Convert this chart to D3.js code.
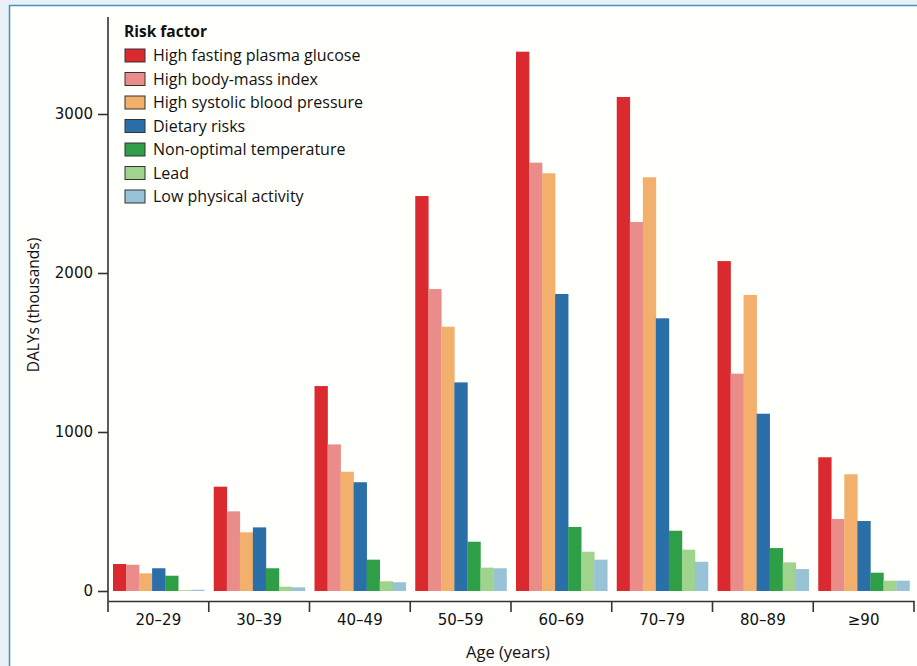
<!DOCTYPE html>
<html>
<head>
<meta charset="utf-8">
<script src="https://cdn.jsdelivr.net/npm/d3@7"></script>
<style>
  body { margin: 0; background: #eaf1f6; }
  svg { display: block; }
  .tick text { font-family: "DejaVu Sans", sans-serif; }
</style>
</head>
<body>
<div id="chart"></div>
<script>
// age groups and the risk factors shown in the legend
var ageGroups = ["20–29", "30–39", "40–49", "50–59", "60–69", "70–79", "80–89", "≥90"];
var riskFactors = ["High fasting plasma glucose", "High body-mass index", "High systolic blood pressure",
  "Dietary risks", "Non-optimal temperature", "Lead", "Low physical activity"];
var colors = ["#da2a30", "#ea8c8a", "#f3b06c", "#2a6fa8", "#2e9f47", "#a0d38b", "#98c3d6"];

// DALYs (thousands), one array per risk factor, in age group order
var glucose     = [170, 656, 1289, 2484, 3392, 3107, 2075, 841];
var bmi         = [165, 501, 922, 1899, 2694, 2321, 1367, 453];
var systolic    = [111, 369, 750, 1662, 2627, 2602, 1862, 734];
var dietary     = [143, 400, 684, 1312, 1868, 1715, 1115, 440];
var temperature = [96, 143, 197, 310, 403, 379, 270, 115];
var lead        = [5, 27, 61, 147, 247, 260, 180, 65];
var activity    = [8, 23, 55, 143, 197, 184, 138, 65];
var yTicks = [0, 1000, 2000, 3000];

var series = [glucose, bmi, systolic, dietary, temperature, lead, activity];

var W = 917, H = 666;
var svg = d3.select("#chart").append("svg").attr("width", W).attr("height", H);

// panel with blue edge
svg.append("rect").attr("x", 9.5).attr("y", 5.5).attr("width", W + 20).attr("height", H + 20)
  .attr("fill", "#fffffc").attr("stroke", "#4a8fc4").attr("stroke-width", 1.5);

var x0 = d3.scaleBand().domain(ageGroups).range([108, 914]);
var x1 = d3.scaleBand().domain(d3.range(riskFactors.length)).range([5, x0.bandwidth() - 4.5]);
var y = d3.scaleLinear().domain([0, 3000]).range([591, 114]);

// bars
var groups = svg.append("g").selectAll("g").data(ageGroups).join("g")
  .attr("transform", function(d) { return "translate(" + x0(d) + ",0)"; });

groups.selectAll("rect").data(function(d, i) {
    return series.map(function(s, k) { return {k: k, v: s[i]}; });
  }).join("rect")
  .attr("x", function(d) { return x1(d.k); })
  .attr("width", x1.bandwidth() + 0.3)
  .attr("y", function(d) { return y(d.v); })
  .attr("height", function(d) { return y(0) - y(d.v); })
  .attr("fill", function(d) { return colors[d.k]; });

// y axis
var yAxis = svg.append("g").attr("transform", "translate(108,0)")
  .call(d3.axisLeft(y).tickValues(yTicks).tickSize(10).tickPadding(5).tickFormat(d3.format("d")));
yAxis.select(".domain").remove();
yAxis.append("line").attr("x1", 0).attr("x2", 0).attr("y1", 17).attr("y2", 601)
  .attr("stroke", "#333").attr("stroke-width", 1.6);
yAxis.selectAll(".tick line").attr("stroke", "#333").attr("stroke-width", 1.6);
yAxis.selectAll(".tick text").attr("fill", "#111").style("font-size", "15px");

// x axis: labels at centres, ticks at the group edges
var xAxis = svg.append("g").attr("transform", "translate(0,601)")
  .call(d3.axisBottom(x0).tickSize(0).tickPadding(13));
xAxis.select(".domain").attr("stroke", "#333").attr("stroke-width", 1.6);
xAxis.selectAll(".tick text").attr("fill", "#111").style("font-size", "15px");
var edges = ageGroups.map(function(d) { return x0(d); }).concat([x0.range()[1]]);
xAxis.selectAll(".edge").data(edges).join("line").attr("class", "edge")
  .attr("x1", function(d) { return d; }).attr("x2", function(d) { return d; })
  .attr("y1", 0).attr("y2", 11).attr("stroke", "#333").attr("stroke-width", 1.6);

// axis titles
svg.append("text").attr("x", 508).attr("y", 658).attr("text-anchor", "middle")
  .style("font-family", "'Open Sans', sans-serif").style("font-size", "16.5px").attr("fill", "#111")
  .text("Age (years)");
svg.append("text").attr("transform", "translate(39,305) rotate(-90)").attr("text-anchor", "middle")
  .style("font-family", "'Open Sans', sans-serif").style("font-size", "15.5px").attr("fill", "#111")
  .text("DALYs (thousands)");

// legend
var legend = svg.append("g").attr("transform", "translate(124,0)");
legend.append("text").attr("x", 0).attr("y", 37)
  .style("font-family", "'Open Sans', sans-serif").style("font-size", "15.5px").style("font-weight", "bold")
  .attr("fill", "#111").text("Risk factor");
var rows = legend.selectAll(".row").data(riskFactors).join("g").attr("class", "row")
  .attr("transform", function(d, i) { return "translate(0," + (55.5 + i * 23.5) + ")"; });
rows.append("rect").attr("x", 1).attr("y", -6.5).attr("width", 20).attr("height", 13)
  .attr("fill", function(d, i) { return colors[i]; }).attr("stroke", "#333").attr("stroke-width", 1);
rows.append("text").attr("x", 29).attr("y", 5.5)
  .style("font-family", "'Open Sans', sans-serif").style("font-size", "16px").attr("fill", "#111")
  .text(function(d) { return d; });
</script>
</body>
</html>
